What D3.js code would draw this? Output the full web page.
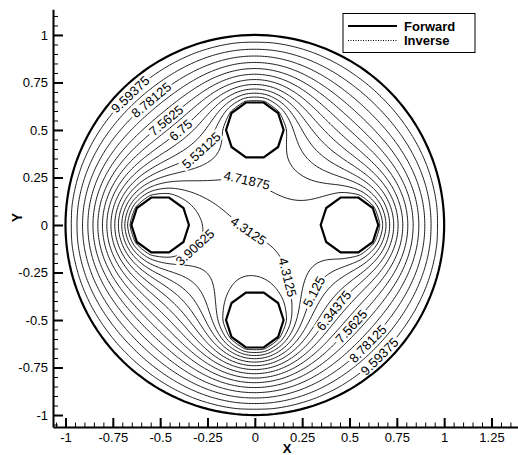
<!DOCTYPE html>
<html>
<head>
<meta charset="utf-8">
<script src="https://cdn.jsdelivr.net/npm/d3@7"></script>
<style>
body { margin: 0; background: #fff; }
svg { display: block; font-family: "Liberation Sans", Arial, Helvetica, sans-serif; }
</style>
</head>
<body>
<svg id="chart" width="518" height="455"></svg>
<script>
// contour levels: 16 bands between 3.5 and 10
var levels = [3.90625, 4.3125, 4.71875, 5.125, 5.53125, 5.9375, 6.34375, 6.75,
              7.15625, 7.5625, 7.96875, 8.375, 8.78125, 9.1875, 9.59375];
var outerValue = 10;
// the four decagonal holes: centre and boundary value
var holeX = [-0.5, 0, 0.5, 0];
var holeY = [0, -0.5, 0, 0.5];
var holeValue = [3.5, 3.5, 4.34, 4.85];
var holeRadius = 0.152, holeSides = 10;

var xTicks = [-1, -0.75, -0.5, -0.25, 0, 0.25, 0.5, 0.75, 1, 1.25];
var yTicks = [-1, -0.75, -0.5, -0.25, 0, 0.25, 0.5, 0.75, 1];

// contour labels (snapped to their line later)
var labelLevel = [9.59375, 8.78125, 7.5625, 6.75, 5.53125, 4.71875, 4.3125,
                  3.90625, 4.3125, 5.125, 6.34375, 7.5625, 8.78125, 9.59375];
var labelX = [-0.650, -0.518, -0.475, -0.404, -0.281, -0.035, 0.018,
              -0.325, 0.212, 0.344, 0.431, 0.511, 0.590, 0.652];
var labelY = [0.675, 0.623, 0.553, 0.509, 0.395, 0.246, 0.045,
              -0.104, -0.262, -0.367, -0.455, -0.533, -0.621, -0.682];

var legendNames = ['Forward', 'Inverse'];

var svg = d3.select('#chart');
var x = d3.scaleLinear().domain([-1.066, 1.39]).range([53, 518]);
var y = d3.scaleLinear().domain([-1.063, 1.135]).range([427, 9.3]);

// ---- solve for the field on a grid (outer circle + holes fixed) ----
var N = 241, h = 2 / (N - 1);
var field = new Float64Array(N * N), fixed = new Uint8Array(N * N);
var apo = holeRadius * Math.cos(Math.PI / holeSides);

function inHole(px, py, k) {
    var dx = px - holeX[k], dy = py - holeY[k];
    for (var s = 0; s < holeSides; s++) {
        var a = (2 * s + 1) * Math.PI / holeSides;
        if (dx * Math.cos(a) + dy * Math.sin(a) > apo) return false;
    }
    return true;
}

for (var j = 0; j < N; j++) {
    for (var i = 0; i < N; i++) {
        var px = -1 + i * h, py = -1 + j * h, idx = j * N + i;
        field[idx] = 6;
        if (px * px + py * py >= 1) { field[idx] = outerValue; fixed[idx] = 1; continue; }
        for (var k = 0; k < holeX.length; k++) {
            if (inHole(px, py, k)) { field[idx] = holeValue[k]; fixed[idx] = 1; }
        }
    }
}

var w = 1.95;
for (var it = 0; it < 1500; it++) {
    for (var j = 1; j < N - 1; j++) {
        for (var i = 1; i < N - 1; i++) {
            var idx = j * N + i;
            if (fixed[idx]) continue;
            var v = 0.25 * (field[idx - 1] + field[idx + 1] + field[idx - N] + field[idx + N]);
            field[idx] += w * (v - field[idx]);
        }
    }
}

var contours = d3.contours().size([N, N]).thresholds(levels)(field);

function gx(c) { return x(-1 + (c - 0.5) * h); }
function gy(c) { return y(-1 + (c - 0.5) * h); }
var proj = d3.geoTransform({
    point: function(px, py) { this.stream.point(gx(px), gy(py)); }
});
var path = d3.geoPath(proj);

// boundary rings in pixels
var outerRing = d3.range(0, 360, 2).map(function(a) {
    var r = a * Math.PI / 180;
    return [x(Math.cos(r)), y(Math.sin(r))];
});
var holeRings = holeX.map(function(hx, k) {
    return d3.range(holeSides).map(function(s) {
        var a = s * 2 * Math.PI / holeSides;
        return [x(hx + holeRadius * Math.cos(a)), y(holeY[k] + holeRadius * Math.sin(a))];
    });
});
var ring = d3.line().curve(d3.curveLinearClosed);

var defs = svg.append('defs');
defs.append('clipPath').attr('id', 'domain')
    .append('path')
    .attr('clip-rule', 'evenodd')
    .attr('d', ring(outerRing) + holeRings.map(ring).join(''));

var mask = defs.append('mask').attr('id', 'gaps')
    .attr('maskUnits', 'userSpaceOnUse')
    .attr('x', 0).attr('y', 0).attr('width', 518).attr('height', 455);
mask.append('rect').attr('width', 518).attr('height', 455).attr('fill', 'white');

svg.append('g')
    .attr('clip-path', 'url(#domain)')
    .attr('mask', 'url(#gaps)')
    .selectAll('path')
    .data(contours)
    .join('path')
    .attr('d', path)
    .attr('fill', 'none')
    .attr('stroke', '#000')
    .attr('stroke-width', 0.9);

// bold boundaries
svg.append('path')
    .attr('d', ring(outerRing))
    .attr('fill', 'none').attr('stroke', '#000').attr('stroke-width', 2.2);
svg.selectAll('.hole')
    .data(holeRings)
    .join('path')
    .attr('class', 'hole')
    .attr('d', ring)
    .attr('fill', 'none').attr('stroke', '#000').attr('stroke-width', 2.2);

// contour labels
var labels = svg.append('g');
labelLevel.forEach(function(lv, n) {
    var c = contours.find(function(d) { return d.value === lv; });
    var tx = x(labelX[n]), ty = y(labelY[n]);
    var best = null, bd = Infinity;
    c.coordinates.forEach(function(poly) {
        poly.forEach(function(r) {
            var pts = r.map(function(p) { return [gx(p[0]), gy(p[1])]; });
            pts.forEach(function(p, i) {
                var d = (p[0] - tx) * (p[0] - tx) + (p[1] - ty) * (p[1] - ty);
                if (d < bd) { bd = d; best = { pts: pts, i: i }; }
            });
        });
    });
    var m = best.pts.length - 1;
    var p = best.pts[best.i];
    var a = best.pts[(best.i - 6 + m * 2) % m], b = best.pts[(best.i + 6) % m];
    var ang = Math.atan2(b[1] - a[1], b[0] - a[0]) * 180 / Math.PI;
    if (ang > 90) ang -= 180;
    if (ang <= -90) ang += 180;
    var tr = 'translate(' + p[0] + ',' + p[1] + ') rotate(' + ang + ')';
    var t = labels.append('text')
        .attr('transform', tr)
        .attr('text-anchor', 'middle')
        .attr('dy', '0.36em')
        .attr('font-size', 13)
        .text(String(lv));
    var len = t.node().getComputedTextLength() + 4;
    mask.append('rect')
        .attr('transform', tr)
        .attr('x', -len / 2).attr('y', -6)
        .attr('width', len).attr('height', 12)
        .attr('fill', 'black');
});

// axes
var minorX = d3.range(-21, 28).map(function(d) { return d * 0.05; });
var minorY = d3.range(-21, 23).map(function(d) { return d * 0.05; });

svg.append('g').attr('transform', 'translate(0,427)')
    .call(d3.axisBottom(x).tickValues(minorX).tickSize(-4.5).tickFormat(''))
    .call(function(g) { g.select('.domain').remove(); });
svg.append('g').attr('transform', 'translate(53,0)')
    .call(d3.axisLeft(y).tickValues(minorY).tickSize(-5).tickFormat(''))
    .call(function(g) { g.select('.domain').remove(); });

var xAxis = svg.append('g').attr('transform', 'translate(0,427)')
    .call(d3.axisBottom(x).tickValues(xTicks).tickSizeInner(-9).tickSizeOuter(0)
        .tickPadding(6).tickFormat(function(d) { return String(d); }));
var yAxis = svg.append('g').attr('transform', 'translate(53,0)')
    .call(d3.axisLeft(y).tickValues(yTicks).tickSizeInner(-10).tickSizeOuter(0)
        .tickPadding(5).tickFormat(function(d) { return String(d); }));

[xAxis, yAxis].forEach(function(g) {
    g.attr('font-family', null).attr('font-size', 13);
    g.select('.domain').attr('stroke-width', 2);
    g.selectAll('.tick line').attr('stroke-width', 2);
    g.selectAll('.tick text').attr('fill', '#000');
});

svg.append('text')
    .attr('x', 287).attr('y', 452.5)
    .attr('text-anchor', 'middle')
    .attr('font-weight', 'bold').attr('font-size', 13)
    .text('X');
svg.append('text')
    .attr('transform', 'translate(21.5,217.5) rotate(-90)')
    .attr('text-anchor', 'middle')
    .attr('font-weight', 'bold').attr('font-size', 14)
    .text('Y');

// legend
var legend = svg.append('g');
legend.append('rect')
    .attr('x', 343).attr('y', 13.5).attr('width', 132).attr('height', 39)
    .attr('fill', '#fff').attr('stroke', '#000').attr('stroke-width', 1);
legendNames.forEach(function(name, i) {
    legend.append('line')
        .attr('x1', 348).attr('x2', 397)
        .attr('y1', 26 + i * 14.5).attr('y2', 26 + i * 14.5)
        .attr('stroke', '#000')
        .attr('stroke-width', i === 0 ? 2 : 1)
        .attr('stroke-dasharray', i === 0 ? null : '1,1.5');
    legend.append('text')
        .attr('x', 404).attr('y', 30.5 + i * 14.5)
        .attr('font-weight', 'bold').attr('font-size', 13)
        .text(name);
});
</script>
</body>
</html>
